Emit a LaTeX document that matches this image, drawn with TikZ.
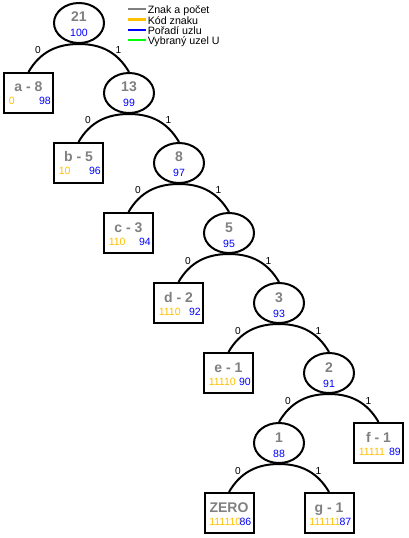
\documentclass[tikz,border=0pt]{standalone}
\usepackage{fontspec}
\setmainfont{Liberation Sans}
\usetikzlibrary{shapes.geometric,calc}
\definecolor{cgray}{RGB}{128,128,128}
\definecolor{corange}{RGB}{255,192,0}
\definecolor{cblue}{RGB}{0,0,255}
\definecolor{cgreen}{RGB}{0,255,0}
\newcommand\innode[4]{%
 \node[inode] (#1) at (#2) {};
 \node[ttl,anchor=base] (#1t) at ($(#1)+(0,-1)$) {#3};
 \node[num,anchor=base] (#1n) at ($(#1)+(0,14)$) {#4};
}
\newcommand\leafnode[5]{%
 \node[leaf] (#1) at (#2) {};
 \node[ttl,anchor=base] (#1t) at ($(#1)+(0,-1)$) {#3};
 \node[code,anchor=base west] (#1c) at ($(#1)+(-20,12)$) {#4};
 \node[num,anchor=base east] (#1n) at ($(#1)+(22.5,12)$) {#5};
}
\newcommand\kids[3]{%
 \draw[link] (#1.south) to[out=180,in=60] (#2.north);
 \draw[link] (#1.south) to[out=0,in=120] (#3.north);
 \node[elbl,anchor=base] (#1z) at ($(#1)+(-41,31)$) {0};
 \node[elbl,anchor=base] (#1o) at ($(#1)+(39.5,31)$) {1};
}
\begin{document}
\begin{tikzpicture}[x=0.75pt,y=-0.75pt,
 inode/.style={ellipse,draw,line width=1.5pt,minimum width=37.5pt,minimum height=30pt,inner sep=0pt},
 leaf/.style={rectangle,draw,line width=1.5pt,minimum width=36.75pt,minimum height=30pt,inner sep=0pt},
 ttl/.style={text=cgray,font=\fontsize{10.5}{12}\selectfont\bfseries,inner sep=0pt},
 num/.style={text=cblue,font=\fontsize{7.9}{9}\selectfont,inner sep=0pt},
 code/.style={text=corange,font=\fontsize{7.9}{9}\selectfont,inner sep=0pt},
 elbl/.style={font=\fontsize{7.6}{9}\selectfont,inner sep=0pt},
 link/.style={line width=1.5pt},
 legline/.style={line width=1.8pt},
 legtxt/.style={font=\fontsize{8}{9}\selectfont,inner sep=0pt,anchor=base west}
]
\useasboundingbox (0,0) rectangle (408,538);
% legend
\foreach \i/\col/\txt in {0/cgray/{Znak a počet},1/corange/{Kód znaku},2/cblue/{Pořadí uzlu},3/cgreen/{Vybraný uzel U}}{
 \node[legtxt] (leg\i) at (147.5,{14+10.3*\i}) {\txt};
 \coordinate (lga\i) at (128,{9.3+10.3*\i});
 \coordinate (lgb\i) at (146,{9.3+10.3*\i});
 \draw[legline,\col] (lga\i) -- (lgb\i);
}
% internal nodes
\innode{n21}{79,23}{21}{100}
\innode{n13}{129,93}{13}{99}
\innode{n8}{179,163}{8}{97}
\innode{n5}{229,233}{5}{95}
\innode{n3}{279,303}{3}{93}
\innode{n2}{329,373}{2}{91}
\innode{n1}{279,443}{1}{88}
% leaves
\leafnode{la}{28.5,93}{a - 8}{0}{98}
\leafnode{lb}{78.5,163}{b - 5}{10}{96}
\leafnode{lc}{128.5,233}{c - 3}{110}{94}
\leafnode{ld}{178.5,303}{d - 2}{1110}{92}
\leafnode{le}{228.5,373}{e - 1}{11110}{90}
\leafnode{lf}{378.5,443}{f - 1}{11111}{89}
\leafnode{lz}{229,513}{ZERO}{111110}{86}
\leafnode{lg}{329,513}{g - 1}{111111}{87}
% connectors
\kids{n21}{la}{n13}
\kids{n13}{lb}{n8}
\kids{n8}{lc}{n5}
\kids{n5}{ld}{n3}
\kids{n3}{le}{n2}
\kids{n2}{n1}{lf}
\kids{n1}{lz}{lg}
\end{tikzpicture}
\end{document}
